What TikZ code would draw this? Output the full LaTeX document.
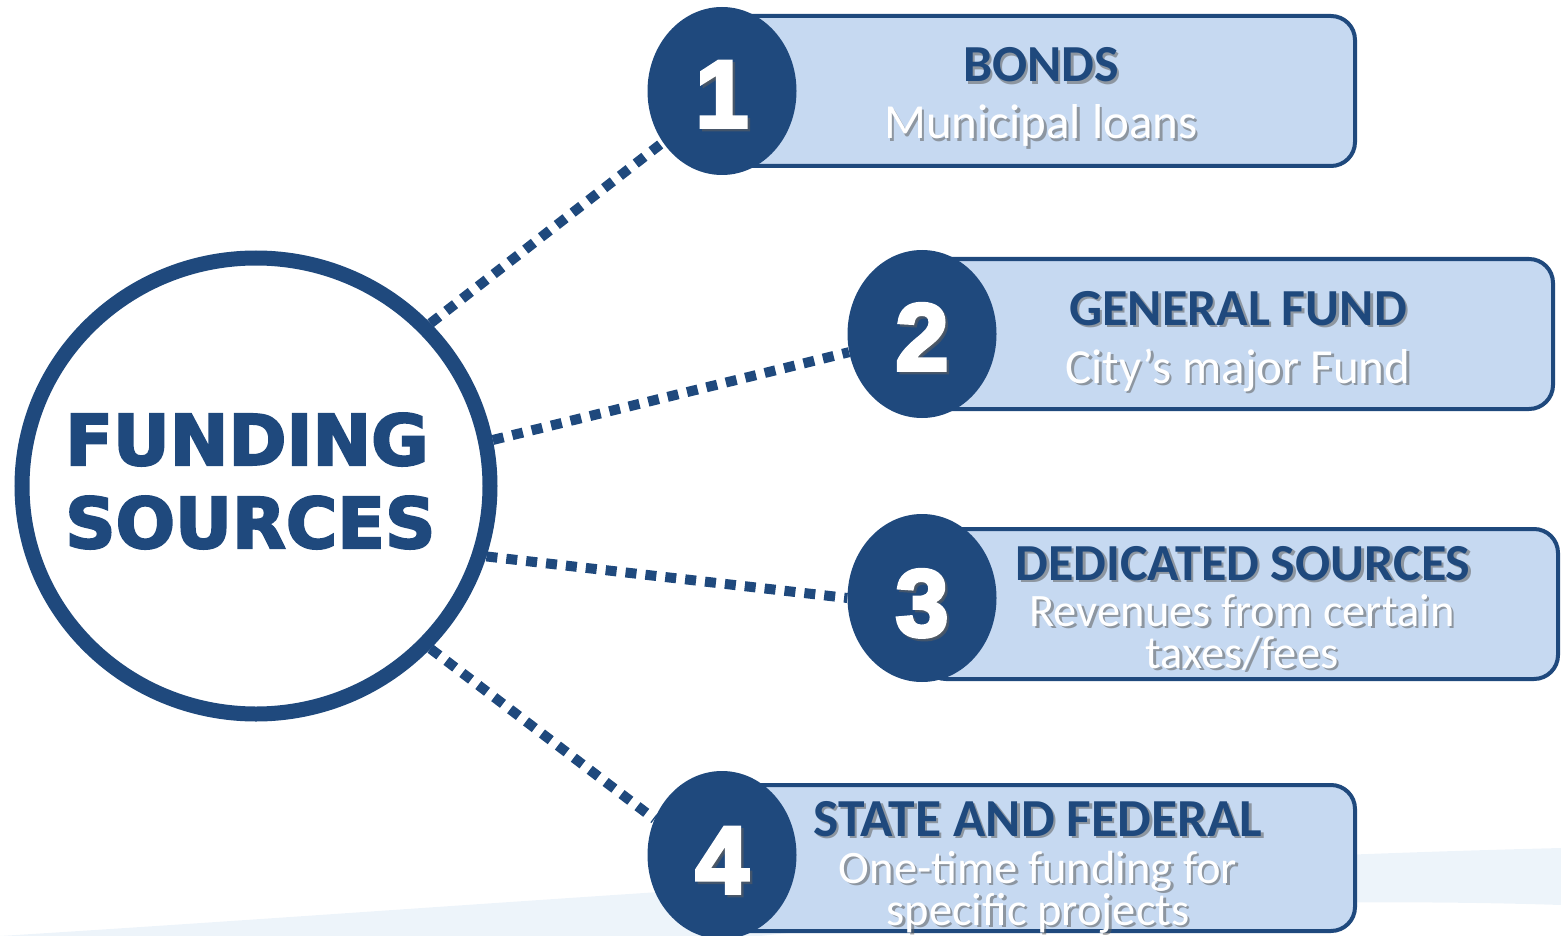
\documentclass[tikz,border=0pt]{standalone}
\usepackage{fontspec}
\setmainfont{Carlito}
\newfontfamily\numfont{Liberation Sans Bold}[FakeBold=4]
\newfontfamily\heavyfont{DejaVu Sans Bold}[FakeBold=3]
\usetikzlibrary{shapes.geometric,calc}
\definecolor{navy}{HTML}{1F497D}
\definecolor{boxfill}{HTML}{C6D9F1}
\definecolor{shadowgray}{HTML}{5F5F5F}
\definecolor{wavecol}{HTML}{E6EFF8}
\tikzset{
  card/.style={draw=navy, line width=4pt, fill=boxfill, rounded corners=24pt},
  numcircle/.style={ellipse, fill=navy, minimum width=149pt, minimum height=168pt, inner sep=0pt},
  numtext/.style={text=white, font=\numfont\fontsize{95}{95}\selectfont, anchor=base, inner sep=0pt},
  title/.style={text=navy, font=\bfseries\fontsize{52}{52}\selectfont, anchor=base, inner sep=0pt},
  sub/.style={text=white, font=\fontsize{49}{49}\selectfont, anchor=base, inner sep=0pt},
  subsm/.style={text=white, font=\fontsize{46.5}{46.5}\selectfont, anchor=base, inner sep=0pt},
  shade/.style={text=shadowgray, opacity=0.55},
  link/.style={draw=navy, line width=10pt, dash pattern=on 11pt off 9pt},
  hub/.style={ellipse, draw=navy, line width=15pt, fill=white, minimum width=468pt, minimum height=456pt, inner sep=0pt},
  hubtext/.style={text=navy, font=\heavyfont\fontsize{70}{70}\selectfont, anchor=base west, inner sep=0pt},
}
\newcommand{\shtext}[4]{%
  \node[#3, shade] (#1s) at ($(#2)+(2.5,2.5)$) {#4};
  \node[#3] (#1) at (#2) {#4};}
\begin{document}
\begin{tikzpicture}[x=1pt, y=-1pt]
\useasboundingbox (0,0) rectangle (1561,936);
% faint background swoosh
\fill[wavecol, opacity=0.7] (0,936) .. controls (500,905) and (1000,862) .. (1561,848)
  -- (1561,905) .. controls (1250,895) and (950,915) .. (760,936) -- cycle;
% cards
\draw[card] (722,16) rectangle (1355,166);
\draw[card] (922,259) rectangle (1553,409);
\draw[card] (922,529) rectangle (1558,679);
\draw[card] (722,785) rectangle (1355,931);
% number circles
\node[numcircle] (n1) at (722,91) {};
\node[numcircle] (n2) at (922,334) {};
\node[numcircle] (n3) at (922,598) {};
\node[numcircle] (n4) at (722,855) {};
\shtext{d1}{722,127}{numtext}{1}
\shtext{d2}{922,370}{numtext}{2}
\shtext{d3}{922,636}{numtext}{3}
\shtext{d4}{722,893}{numtext}{4}
% hub
\node[hub] (fs) at (256,486) {};
\node[hubtext] (fsa) at (65,465) {FUNDING};
\node[hubtext] (fsb) at (65,548) {SOURCES};
% texts
\shtext{t1}{1041,82}{title}{BONDS}
\shtext{s1}{1041,139}{sub}{Municipal loans}
\shtext{t2}{1238,325}{title}{GENERAL FUND}
\shtext{s2}{1238,383}{sub}{City’s major Fund}
\shtext{t3}{1243,580}{title}{DEDICATED SOURCES}
\shtext{s3a}{1242,626}{subsm}{Revenues from certain}
\shtext{s3b}{1242,668}{subsm}{taxes/fees}
\shtext{t4}{1038,836}{title, font=\bfseries\fontsize{53.5}{53.5}\selectfont}{STATE AND FEDERAL}
\shtext{s4a}{1038,883}{subsm}{One-time funding for}
\shtext{s4b}{1038,925}{subsm}{specific projects}
% connectors
\draw[link] (fs.43.3) -- (n1.221.8);
\draw[link] (fs.11.7) -- (n2.194);
\draw[link] (fs.-17.8) -- (n3.180);
\draw[link] (fs.-43.3) -- (n4.152.4);
\end{tikzpicture}
\end{document}
